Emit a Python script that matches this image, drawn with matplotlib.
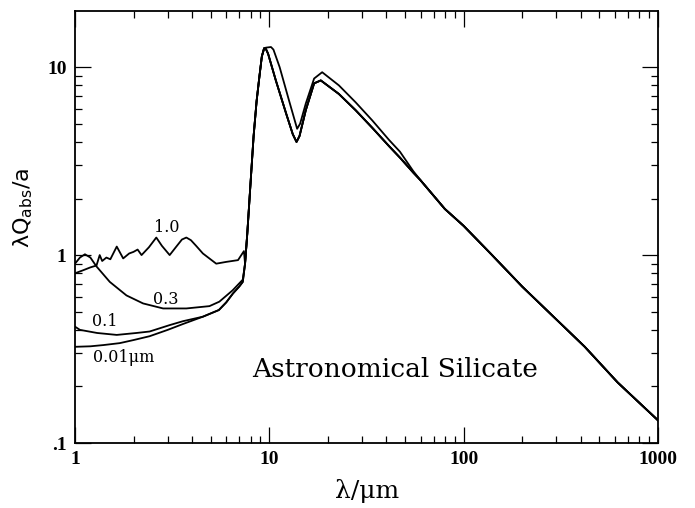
import matplotlib
matplotlib.use("Agg")
import numpy as np
import matplotlib.pyplot as plt
from matplotlib.ticker import FixedLocator, FixedFormatter, LogLocator, NullFormatter

# ---------------- data ----------------
# short-wavelength parts, one per grain radius (micron)
lam_001 = [1.0, 1.2, 1.4, 1.7, 2.0, 2.42, 3.0, 3.6, 4.55, 5.5, 6.0, 6.5, 7.0, 7.3]
q_001 = [0.325, 0.327, 0.332, 0.34, 0.353, 0.37, 0.40, 0.43, 0.47, 0.51, 0.56, 0.625, 0.68, 0.72]

lam_01 = [1.0, 1.06, 1.3, 1.64, 2.07, 2.42, 3.07, 3.6, 4.55, 5.5, 6.0, 6.5, 7.0, 7.3]
q_01 = [0.416, 0.40, 0.385, 0.376, 0.385, 0.392, 0.424, 0.445, 0.47, 0.51, 0.56, 0.625, 0.68, 0.72]

lam_03 = [1.0, 1.06, 1.125, 1.2, 1.29, 1.51, 1.84, 2.24, 2.84, 3.74, 4.92, 5.53, 6.48, 7.3]
q_03 = [0.90, 0.97, 1.01, 0.97, 0.87, 0.72, 0.61, 0.553, 0.52, 0.52, 0.535, 0.565, 0.65, 0.74]

lam_10 = [1.0, 1.1, 1.2, 1.29, 1.34, 1.38, 1.45, 1.52, 1.64, 1.77, 1.9, 2.0, 2.1, 2.2,
          2.4, 2.62, 2.8, 3.07, 3.3, 3.55, 3.74, 3.95, 4.2, 4.55, 5.33, 6.0, 6.9, 7.4]
q_10 = [0.80, 0.83, 0.86, 0.88, 1.0, 0.93, 0.97, 0.95, 1.11, 0.96, 1.02, 1.04, 1.07, 1.0,
        1.1, 1.24, 1.12, 1.0, 1.1, 1.21, 1.24, 1.2, 1.12, 1.02, 0.90, 0.92, 0.94, 1.05]

# steep rise into the 9.7 micron feature (shared)
lam_rise = [7.5, 7.7, 8.0, 8.3, 8.6, 8.9, 9.15, 9.4]
q_rise = [0.9, 1.3, 2.4, 4.3, 6.6, 9.0, 11.4, 12.6]

# silicate features: two distinguishable branches
lam_featA = [9.6, 9.85, 10.8, 12.2, 13.2, 13.8, 14.3, 15.4, 17.0, 18.4,
             22.8, 27.8, 33.9, 41.3, 47.0, 55.0]
q_featA = [12.5, 11.8, 8.5, 5.67, 4.4, 4.0, 4.3, 5.9, 8.2, 8.5,
           7.2, 5.9, 4.75, 3.8, 3.3, 2.75]

lam_featB = [9.6, 10.2, 10.5, 11.3, 12.6, 13.9, 14.4, 15.4, 17.0, 18.7,
             22.8, 27.8, 33.9, 41.3, 47.0, 55.0]
q_featB = [12.7, 12.8, 12.4, 10.0, 6.7, 4.7, 5.0, 6.4, 8.7, 9.4,
           8.0, 6.5, 5.2, 4.1, 3.55, 2.8]

# far-infrared tail (shared)
lam_tail = [60, 80, 100, 140, 200, 420, 620, 1000]
q_tail = [2.5, 1.76, 1.43, 1.0, 0.68, 0.325, 0.21, 0.132]

sizes = ["0.01", "0.1", "0.3", "1.0"]
short_lam = [lam_001, lam_01, lam_03, lam_10]
short_q = [q_001, q_01, q_03, q_10]
branch = ["A", "A", "A", "B"]

x_ticks = [1, 10, 100, 1000]
x_ticklabels = ["1", "10", "100", "1000"]
y_ticks = [0.1, 1, 10]
y_ticklabels = [".1", "1", "10"]

# ---------------- figure ----------------
W, H = 695, 508
fig = plt.figure(figsize=(W / 100, H / 100), dpi=100)
ax = fig.add_axes([75 / W, 1 - 443 / H, 583 / W, 432 / H])

feats = {"A": (lam_featA, q_featA), "B": (lam_featB, q_featB)}
for sl, sq, br in zip(short_lam, short_q, branch):
    fl, fq = feats[br]
    lam = np.concatenate([sl, lam_rise, fl, lam_tail])
    q = np.concatenate([sq, q_rise, fq, q_tail])
    ax.plot(lam, q, color="black", lw=1.3, solid_joinstyle="round")

ax.set_xscale("log")
ax.set_yscale("log")
ax.set_xlim(1, 1000)
ax.set_ylim(0.1, 19.9)

ax.xaxis.set_major_locator(FixedLocator(x_ticks))
ax.xaxis.set_major_formatter(FixedFormatter(x_ticklabels))
ax.yaxis.set_major_locator(FixedLocator(y_ticks))
ax.yaxis.set_major_formatter(FixedFormatter(y_ticklabels))
ax.xaxis.set_minor_locator(LogLocator(base=10, subs=np.arange(2, 10)))
ax.yaxis.set_minor_locator(LogLocator(base=10, subs=np.arange(2, 10)))
ax.xaxis.set_minor_formatter(NullFormatter())
ax.yaxis.set_minor_formatter(NullFormatter())

ax.tick_params(which="both", direction="in", top=True, right=True, color="black")
ax.tick_params(which="major", length=11.5, width=0.9)
ax.tick_params(which="minor", length=5, width=0.9)
ax.tick_params(axis="x", which="major", pad=6)
ax.tick_params(axis="y", which="major", pad=6)
for lab in ax.get_xticklabels() + ax.get_yticklabels():
    lab.set_fontfamily("Liberation Serif")
    lab.set_fontweight("bold")
    lab.set_fontsize(14)
for sp in ax.spines.values():
    sp.set_linewidth(1.3)

ax.set_xlabel("λ/μm", fontfamily="DejaVu Serif", fontsize=18)
ax.xaxis.set_label_coords((367 - 75) / 583, (443 - 479) / 432)
plt.rcParams["mathtext.fontset"] = "dejavusans"
ax.set_ylabel(r"λQ$_{\mathrm{abs}}$/a", fontfamily="DejaVu Sans", fontsize=16)
ax.yaxis.set_label_coords((35 - 75) / 583, (443 - 208) / 432)

fig.text(252 / W, 1 - 377 / H, "Astronomical Silicate", fontfamily="DejaVu Serif",
         fontsize=19, ha="left", va="baseline")
lab_kw = dict(fontfamily="DejaVu Serif", fontsize=11.5, va="center")
fig.text(167 / W, 1 - 228 / H, "1.0", ha="center", **lab_kw)
fig.text(166 / W, 1 - 299 / H, "0.3", ha="center", **lab_kw)
fig.text(105 / W, 1 - 321 / H, "0.1", ha="center", **lab_kw)
fig.text(93 / W, 1 - 357 / H, "0.01μm", ha="left", **lab_kw)

fig.savefig("out.png", dpi=100)
